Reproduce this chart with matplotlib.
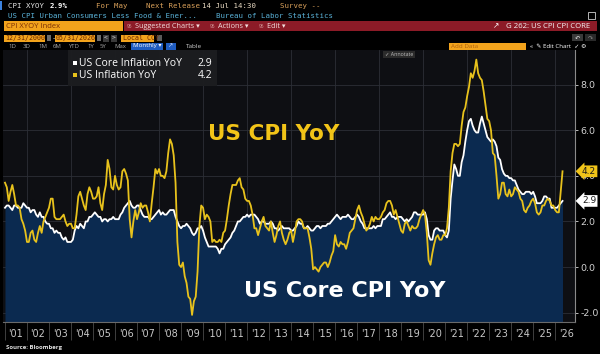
import matplotlib
matplotlib.use('Agg')
import matplotlib.pyplot as plt
from matplotlib.patches import Rectangle
import matplotlib.transforms as mtransforms
import numpy as np

# ---------------- data (monthly, Jan 2001 .. May 2026) ----------------
start_year = 2001
cpi_yoy = [
    3.7, 3.5, 2.9, 3.3, 3.6, 3.2, 2.7, 2.7, 2.6, 2.1, 1.9, 1.6,      # 2001
    1.1, 1.1, 1.5, 1.6, 1.2, 1.1, 1.5, 1.8, 1.5, 2.0, 2.2, 2.4,      # 2002
    2.6, 3.0, 3.0, 2.2, 2.1, 2.1, 2.1, 2.2, 2.3, 2.0, 1.8, 1.9,      # 2003
    1.9, 1.7, 1.7, 2.3, 3.1, 3.3, 3.0, 2.7, 2.5, 3.2, 3.5, 3.3,      # 2004
    3.0, 3.0, 3.1, 3.5, 2.8, 2.5, 3.2, 3.6, 4.7, 4.3, 3.5, 3.4,      # 2005
    4.0, 3.6, 3.4, 3.5, 4.2, 4.3, 4.1, 3.8, 2.1, 1.3, 2.0, 2.5,      # 2006
    2.1, 2.4, 2.8, 2.6, 2.7, 2.7, 2.4, 2.0, 2.8, 3.5, 4.3, 4.1,      # 2007
    4.3, 4.0, 4.0, 3.9, 4.2, 5.0, 5.6, 5.4, 4.9, 3.7, 1.1, 0.1,      # 2008
    0.0, 0.2, -0.4, -0.7, -1.3, -1.4, -2.1, -1.5, -1.3, -0.2, 1.8, 2.7,  # 2009
    2.6, 2.1, 2.3, 2.2, 2.0, 1.1, 1.2, 1.1, 1.1, 1.2, 1.1, 1.5,      # 2010
    1.6, 2.1, 2.7, 3.2, 3.6, 3.6, 3.6, 3.8, 3.9, 3.5, 3.4, 3.0,      # 2011
    2.9, 2.9, 2.7, 2.3, 1.7, 1.7, 1.4, 1.7, 2.0, 2.2, 1.8, 1.7,      # 2012
    1.6, 2.0, 1.5, 1.1, 1.4, 1.8, 2.0, 1.5, 1.2, 1.0, 1.2, 1.5,      # 2013
    1.6, 1.1, 1.5, 2.0, 2.1, 2.1, 2.0, 1.7, 1.7, 1.7, 1.3, 0.8,      # 2014
    -0.1, 0.0, -0.1, -0.2, 0.0, 0.1, 0.2, 0.2, 0.0, 0.2, 0.5, 0.7,   # 2015
    1.4, 1.0, 0.9, 1.1, 1.0, 1.0, 0.8, 1.1, 1.5, 1.6, 1.7, 2.1,      # 2016
    2.5, 2.7, 2.4, 2.2, 1.9, 1.6, 1.7, 1.9, 2.2, 2.0, 2.2, 2.1,      # 2017
    2.1, 2.2, 2.4, 2.5, 2.8, 2.9, 2.9, 2.7, 2.3, 2.5, 2.2, 1.9,      # 2018
    1.6, 1.5, 1.9, 2.0, 1.8, 1.6, 1.8, 1.7, 1.7, 1.8, 2.1, 2.3,      # 2019
    2.5, 2.3, 1.5, 0.3, 0.1, 0.6, 1.0, 1.3, 1.4, 1.2, 1.2, 1.4,      # 2020
    1.4, 1.7, 2.6, 4.2, 5.0, 5.4, 5.4, 5.3, 5.4, 6.2, 6.8, 7.0,      # 2021
    7.5, 7.9, 8.5, 8.3, 8.6, 9.1, 8.5, 8.3, 8.2, 7.7, 7.1, 6.5,      # 2022
    6.4, 6.0, 5.0, 4.9, 4.0, 3.0, 3.2, 3.7, 3.7, 3.2, 3.1, 3.4,      # 2023
    3.1, 3.2, 3.5, 3.4, 3.3, 3.0, 2.9, 2.5, 2.4, 2.6, 2.7, 2.9,      # 2024
    3.0, 2.8, 2.4, 2.3, 2.4, 2.7, 2.7, 2.9, 3.0, 2.9, 2.7, 2.7,      # 2025
    2.5, 2.4, 2.4, 3.3, 4.2,                                         # 2026
]
core_yoy = [
    2.6, 2.7, 2.7, 2.6, 2.5, 2.7, 2.7, 2.6, 2.6, 2.6, 2.8, 2.7,      # 2001
    2.6, 2.6, 2.4, 2.5, 2.5, 2.3, 2.2, 2.4, 2.2, 2.2, 2.0, 1.9,      # 2002
    1.9, 1.7, 1.7, 1.5, 1.6, 1.5, 1.5, 1.3, 1.2, 1.3, 1.1, 1.1,      # 2003
    1.1, 1.2, 1.6, 1.8, 1.7, 1.9, 1.8, 1.7, 2.0, 2.0, 2.2, 2.2,      # 2004
    2.3, 2.4, 2.3, 2.2, 2.2, 2.0, 2.1, 2.1, 2.0, 2.1, 2.1, 2.2,      # 2005
    2.1, 2.1, 2.1, 2.3, 2.4, 2.6, 2.7, 2.8, 2.9, 2.7, 2.6, 2.6,      # 2006
    2.7, 2.7, 2.5, 2.3, 2.2, 2.2, 2.2, 2.1, 2.1, 2.2, 2.3, 2.4,      # 2007
    2.5, 2.3, 2.4, 2.3, 2.3, 2.4, 2.5, 2.5, 2.5, 2.2, 2.0, 1.8,      # 2008
    1.7, 1.8, 1.8, 1.9, 1.8, 1.7, 1.5, 1.4, 1.5, 1.7, 1.7, 1.8,      # 2009
    1.6, 1.3, 1.1, 0.9, 0.9, 0.9, 0.9, 0.9, 0.8, 0.6, 0.8, 0.8,      # 2010
    1.0, 1.1, 1.2, 1.3, 1.5, 1.6, 1.8, 2.0, 2.0, 2.1, 2.2, 2.2,      # 2011
    2.3, 2.2, 2.3, 2.3, 2.3, 2.2, 2.1, 1.9, 2.0, 2.0, 1.9, 1.9,      # 2012
    1.9, 2.0, 1.9, 1.7, 1.7, 1.6, 1.7, 1.8, 1.7, 1.7, 1.7, 1.7,      # 2013
    1.6, 1.6, 1.7, 1.8, 2.0, 1.9, 1.9, 1.7, 1.7, 1.8, 1.7, 1.6,      # 2014
    1.6, 1.7, 1.8, 1.8, 1.7, 1.8, 1.8, 1.8, 1.9, 1.9, 2.0, 2.1,      # 2015
    2.2, 2.3, 2.2, 2.1, 2.2, 2.2, 2.2, 2.3, 2.2, 2.1, 2.1, 2.2,      # 2016
    2.3, 2.2, 2.0, 1.9, 1.7, 1.7, 1.7, 1.7, 1.7, 1.8, 1.7, 1.8,      # 2017
    1.8, 1.8, 2.1, 2.1, 2.2, 2.3, 2.4, 2.2, 2.2, 2.1, 2.2, 2.2,      # 2018
    2.2, 2.1, 2.0, 2.1, 2.0, 2.1, 2.2, 2.4, 2.4, 2.3, 2.3, 2.3,      # 2019
    2.3, 2.4, 2.1, 1.4, 1.2, 1.2, 1.6, 1.7, 1.7, 1.6, 1.6, 1.6,      # 2020
    1.4, 1.3, 1.6, 3.0, 3.8, 4.5, 4.3, 4.0, 4.0, 4.6, 4.9, 5.5,      # 2021
    6.0, 6.4, 6.5, 6.2, 6.0, 5.9, 5.9, 6.3, 6.6, 6.3, 6.0, 5.7,      # 2022
    5.6, 5.5, 5.6, 5.5, 5.3, 4.8, 4.7, 4.3, 4.1, 4.0, 4.0, 3.9,      # 2023
    3.9, 3.8, 3.8, 3.6, 3.4, 3.3, 3.2, 3.2, 3.3, 3.3, 3.3, 3.2,      # 2024
    3.3, 3.1, 2.8, 2.8, 2.8, 2.9, 3.1, 3.1, 3.0, 3.0, 2.6, 2.6,      # 2025
    2.6, 2.6, 2.7, 2.8, 2.9,                                         # 2026
]
year_labels = ["'01", "'02", "'03", "'04", "'05", "'06", "'07", "'08", "'09", "'10",
               "'11", "'12", "'13", "'14", "'15", "'16", "'17", "'18", "'19", "'20",
               "'21", "'22", "'23", "'24", "'25", "'26"]
y_ticks = [-2.0, 0.0, 2.0, 4.0, 6.0, 8.0]
series_names = ["US Core Inflation YoY", "US Inflation YoY"]

# ---------------- figure ----------------
W, H = 600, 354
fig = plt.figure(figsize=(6, 3.54), dpi=100, facecolor='black')

def fx(x): return x / W
def fy(y): return 1 - y / H

def box(x0, y0, x1, y1, color, z=1, **kw):
    fig.patches.append(Rectangle((fx(x0), fy(y1)), (x1 - x0) / W, (y1 - y0) / H,
                                 transform=fig.transFigure, facecolor=color,
                                 edgecolor=kw.pop('ec', 'none'), zorder=z, **kw))

def txt(x, y, s, color='white', size=5.3, family='DejaVu Sans Mono', z=5, **kw):
    fig.text(fx(x), fy(y), s, color=color, fontsize=size, family=family,
             va='center', zorder=z, **kw)

SANS = ['Open Sans', 'DejaVu Sans']
ORANGE = '#f2a31c'
TAN = '#d9a05a'
CYAN = '#5ab2d8'
RED = '#8c1b27'

# row 1
box(0, 1, 2, 10, '#3b82e0')
txt(8, 6, 'CPI XYOY', color='#e6e6e6')
txt(50, 6, '2.9%', color='white', weight='bold')
txt(96, 6, 'For May', color=TAN)
txt(146, 6, 'Next Release', color=TAN)
txt(202, 6, '14 Jul 14:30', color='#eadbc4')
txt(280, 6, 'Survey --', color=TAN)
# row 2
txt(8, 16, 'US CPI Urban Consumers Less Food & Ener...', color=CYAN)
txt(216, 16, 'Bureau of Labor Statistics', color=CYAN)
box(588, 12, 595, 19, 'none', ec='#cfcfcf', lw=0.6)
# row 3
box(4, 21.5, 123, 30.5, ORANGE)
txt(6, 26, 'CPI XYOY Index', color='#7a2c05', family=SANS, size=5.5)
box(124, 21.5, 597, 30.5, RED)
for xx, s in [(127, 'Suggested Charts \u25be'), (210, 'Actions \u25be'), (259, 'Edit \u25be')]:
    txt(xx, 26, '96', color='#d9a0a0', family=SANS, size=3.5)
    txt(xx + 8, 26, s, color='#f2dede', family=SANS, size=5.2)
txt(493, 26, '\u2197', color='white', family='DejaVu Sans', size=5.5)
txt(506, 26, 'G 262: US CPI CPI CORE', color='#f5f5f5', family=SANS, size=5.6)
# row 4
box(4, 34.5, 45, 41.5, ORANGE)
txt(5, 38, '12/31/2000', color='#6a2500', size=4.8)
box(47, 35.5, 51, 40.5, '#6d6d6d')
txt(52, 38, '-', color='#cccccc', size=5)
box(55, 34.5, 95, 41.5, ORANGE)
txt(56, 38, '05/31/2026', color='#6a2500', size=4.8)
box(97, 35.5, 101, 40.5, '#6d6d6d')
box(103, 34.5, 109, 41.5, '#3a3a3a')
box(111, 34.5, 117, 41.5, '#3a3a3a')
txt(104, 38, '<', color='#dddddd', size=4.5)
txt(112, 38, '>', color='#dddddd', size=4.5)
box(121, 34.5, 154, 41.5, ORANGE)
txt(123, 38, 'Local CCY', color='#6a2500', size=4.8)
box(157, 35.5, 162, 40.5, '#5a5a5a')
box(572, 34, 583, 41, '#3a3a3a')
box(585, 34, 596, 41, '#2a2a2a')
txt(575, 37.5, '\u21b6', color='#dddddd', family='DejaVu Sans', size=4.5)
txt(588, 37.5, '\u21b7', color='#888888', family='DejaVu Sans', size=4.5)
# row 5
for xx, s in zip([8, 23, 38, 53, 68, 87, 100, 114],
                 ['1D', '3D', '1M', '6M', 'YTD', '1Y', '5Y', 'Max']):
    txt(xx, 46, s, color='#a9a9a9', family=SANS, size=4.3)
box(131, 42.5, 163, 49.5, '#1f5cc0')
txt(133, 46, 'Monthly \u25be', color='white', family=SANS, size=4.5)
box(166, 42.5, 176, 49.5, '#1f5cc0')
txt(167.5, 46, '\u2197', color='#cfe0ff', family='DejaVu Sans', size=4.5)
txt(186, 46, 'Table', color='#d0d0d0', family=SANS, size=4.6)
box(449, 42.5, 526, 49.5, ORANGE)
txt(451, 46, 'Add Data', color='#b0620e', family=SANS, size=4.5)
txt(530, 46, '\u00ab  \u270e Edit Chart  \u2713 \u2699', color='white', family=SANS, size=4.4)

# ---------------- chart axes ----------------
ax = fig.add_axes([fx(3), fy(322), 572 / W, 272 / H])
ax.set_facecolor('#0e0f13')

n = len(cpi_yoy)
t = start_year + np.arange(n) / 12.0
cpi = np.array(cpi_yoy)
core = np.array(core_yoy)

ax.set_xlim(start_year - 0.09, start_year + 25.9)
ax.set_ylim(-2.41, 9.52)

years = np.arange(start_year, start_year + len(year_labels))
for yr in years:
    if yr % 2 == 0:
        ax.axvline(yr, color='#2c2f36', lw=0.6, zorder=1)
ax.set_yticks(y_ticks)
ax.yaxis.grid(True, color='#2c2f36', lw=0.6, zorder=1)
ax.set_axisbelow(True)

ymin = ax.get_ylim()[0]
ax.fill_between(t, core, ymin, color='#0b2a50', lw=0, zorder=2)
ax.plot(t, core, color='white', lw=1.3, zorder=4)
ax.plot(t, cpi, color='#e8c21c', lw=1.3, zorder=5)

# x axis: labels centered within years, separators at year starts
ax.set_xticks(years + 0.5)
ax.set_xticklabels(year_labels)
ax.set_xticks(years, minor=True)
ax.tick_params(axis='x', which='major', length=0, pad=5, labelsize=7, labelcolor='#c8c8c8')
ax.tick_params(axis='x', which='minor', length=13, width=0.6, color='#4a4a4a', direction='out')

ax.yaxis.tick_right()
ax.set_yticklabels([f'{v:.1f}' for v in y_ticks])
ax.tick_params(axis='y', length=2.5, width=0.7, color='#bbbbbb', pad=1.5, labelsize=6.8,
               labelcolor='#d0d0d0')

for s in ['top', 'left']:
    ax.spines[s].set_visible(False)
ax.spines['right'].set_color('#8a8a8a')
ax.spines['right'].set_linewidth(0.8)
ax.spines['bottom'].set_color('#6a6a6a')
ax.spines['bottom'].set_linewidth(0.8)

# last-value tags
blend = mtransforms.blended_transform_factory(ax.transAxes, ax.transData)
ax.text(1.012, cpi[-1], f'{cpi[-1]:.1f}', transform=blend, fontsize=6.5, color='#1a1a1a',
        va='center', ha='left', zorder=10, clip_on=False,
        bbox=dict(boxstyle='larrow,pad=0.15', fc='#f0c419', ec='none'))
ax.text(1.012, core[-1], f'{core[-1]:.1f}', transform=blend, fontsize=6.5, color='#1a1a1a',
        va='center', ha='left', zorder=10, clip_on=False,
        bbox=dict(boxstyle='larrow,pad=0.15', fc='white', ec='none'))

# annotate button
box(383, 50.5, 415, 57.5, '#2b2b2b', z=20)
txt(385, 54, '\u2713 Annotate', color='#bdbdbd', family=SANS, size=3.8, z=21)

# legend
box(68, 50, 217, 86, '#1c1d20', z=20, alpha=0.95)
box(73, 60.5, 77, 64.5, 'white', z=21)
box(73, 72.5, 77, 76.5, '#e8c21c', z=21)
txt(79, 63, series_names[0], color='white', family=SANS, size=7.5, z=22)
txt(79, 75, series_names[1], color='white', family=SANS, size=7.5, z=22)
txt(212, 63, f'{core[-1]:.1f}', color='white', family=SANS, size=7.5, z=22, ha='right')
txt(212, 75, f'{cpi[-1]:.1f}', color='white', family=SANS, size=7.5, z=22, ha='right')

# big annotations
fig.text(fx(274), fy(133.5), 'US CPI YoY', color='#f2c418', fontsize=15.5, weight='bold',
         family='DejaVu Sans', ha='center', va='center', zorder=30)
fig.text(fx(345), fy(291), 'US Core CPI YoY', color='white', fontsize=16, weight='bold',
         family='DejaVu Sans', ha='center', va='center', zorder=30)

txt(6, 348, 'Source: Bloomberg', color='#e0e0e0', family=SANS, size=4.3, weight='bold')

fig.savefig('out.png', dpi=100, facecolor='black')
